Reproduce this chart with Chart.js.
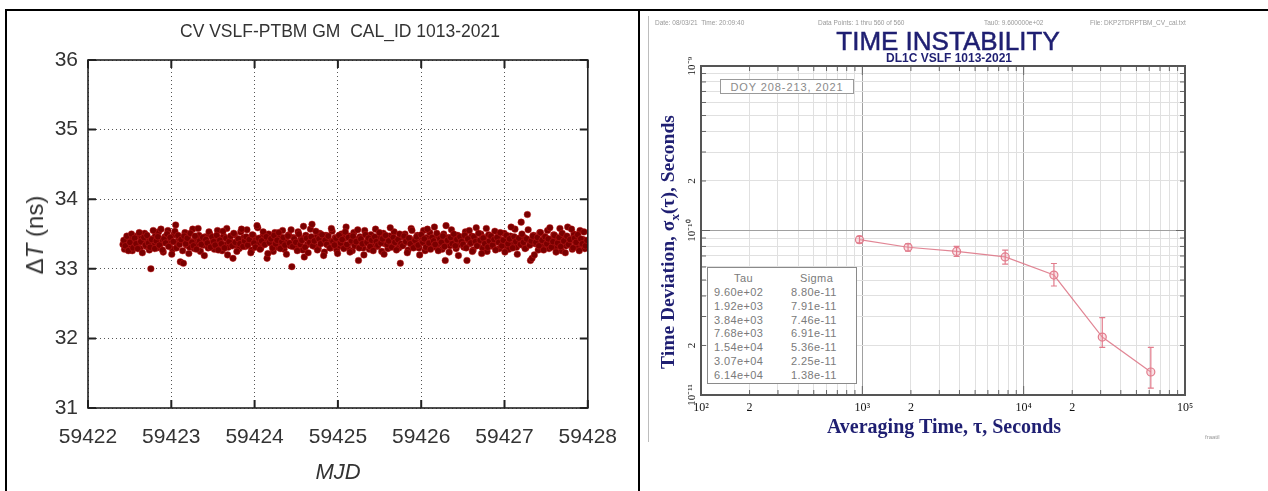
<!DOCTYPE html>
<html>
<head>
<meta charset="utf-8">
<script src="https://cdn.jsdelivr.net/npm/chart.js@4.4.1/dist/chart.umd.min.js"></script>
<style>
  body { margin: 0; background: #fff; width: 1268px; height: 491px; overflow: hidden; position: relative;
         font-family: "Liberation Sans", Arial, sans-serif; }
  .abs { position: absolute; }
  .c { position: absolute; transform: translate(-50%, -50%); white-space: nowrap; }
  .rot { position: absolute; transform: translate(-50%, -50%) rotate(-90deg); white-space: nowrap; }
  .line { position: absolute; background: #000; }
  .hdr { position: absolute; top: 19px; font-size: 6.5px; color: #999; white-space: nowrap; }
  .navy { color: #1f1f72; }
  .serif { font-family: "Liberation Serif", "Times New Roman", serif; font-weight: bold; }
  #stats { position: absolute; left: 707px; top: 267px; width: 150px; height: 117px; border: 1px solid #8a8a8a;
           background: #fff; font-size: 11px; letter-spacing: 0.4px; color: #7a7a7a; box-sizing: border-box; }
  #stats span { position: absolute; white-space: nowrap; }
  #doy { position: absolute; left: 720px; top: 79px; width: 134px; height: 15px; border: 1px solid #9a9a9a;
         background: #fff; font-size: 11px; letter-spacing: 0.9px; color: #8a8a8a; text-align: center;
         line-height: 14px; box-sizing: border-box; }
</style>
</head>
<body>

<canvas id="cvChart" class="abs" style="left:0;top:0" width="634" height="491"></canvas>
<canvas id="tdevChart" class="abs" style="left:640px;top:12px" width="628" height="470"></canvas>

<!-- cadre du tableau -->
<div class="line" style="left:5px;top:9px;width:1263px;height:2px"></div>
<div class="line" style="left:5px;top:9px;width:2px;height:482px"></div>
<div class="line" style="left:638px;top:9px;width:2px;height:482px"></div>
<div class="abs" style="left:648px;top:16px;width:1px;height:426px;background:#bdbdbd"></div>

<!-- textes du graphe de gauche -->
<div class="c" style="left:340px;top:31px;font-size:17.5px;color:#333">CV VSLF-PTBM GM&nbsp; CAL_ID 1013-2021</div>
<div class="rot" style="left:35px;top:235px;font-size:24px;color:#333">&Delta;<i>T</i> (ns)</div>
<div class="c" style="left:338px;top:472px;font-size:22px;color:#333;font-style:italic">MJD</div>

<!-- textes du graphe de droite -->
<div class="hdr" style="left:655px">Date: 08/03/21&nbsp; Time: 20:09:40</div>
<div class="hdr" style="left:818px">Data Points: 1 thru 560 of 560</div>
<div class="hdr" style="left:984px">Tau0: 9.600000e+02</div>
<div class="hdr" style="left:1090px">File: DKP2TDRPTBM_CV_cal.txt</div>
<div class="c navy" style="left:948px;top:41px;font-size:26px;-webkit-text-stroke:0.5px #1f1f72">TIME INSTABILITY</div>
<div class="c navy" style="left:949px;top:58px;font-size:12px;font-weight:bold">DL1C VSLF 1013-2021</div>
<div class="rot navy serif" style="left:670px;top:242px;font-size:19.5px">Time Deviation, &sigma;<sub style="font-size:13px">x</sub>(&tau;), Seconds</div>
<div class="c navy serif" style="left:944px;top:426px;font-size:20px">Averaging Time, &tau;, Seconds</div>
<div class="abs" style="left:1205px;top:434px;font-size:6px;color:#999">fraatil</div>
<div id="doy">DOY 208-213, 2021</div>
<div id="stats"></div>

<script>
// ---- graphe de gauche : CV VSLF-PTBM ----
const mjdTicks = [59422, 59423, 59424, 59425, 59426, 59427, 59428];
const dtTicks = [31, 32, 33, 34, 35, 36];
const mjdStart = 59422.42;
const mjdStep = 0.0186;
// mesures aux instants mjdStart + i*mjdStep
const dtValuesA = [
  33.35, 33.28, 33.42, 33.31, 33.45, 33.38, 33.26, 33.40, 33.33, 33.47, 33.36, 33.29, 33.44, 33.39, 33.51, 33.32, 33.41, 33.27, 33.00, 33.43,
  33.37, 33.48, 33.30, 33.53, 33.35, 33.42, 33.24, 33.46, 33.38, 33.55, 33.33, 33.40, 33.28, 33.49, 33.63, 33.36, 33.44, 33.10, 33.41, 33.08,
  33.52, 33.34, 33.45, 33.31, 33.39, 33.57, 33.29, 33.43, 33.36, 33.48, 33.25, 33.41, 33.34, 33.46, 33.38, 33.30, 33.50, 33.37, 33.43, 33.28,
  33.39, 33.55, 33.33, 33.44, 33.26, 33.47, 33.35, 33.58, 33.31, 33.42, 33.37, 33.15, 33.49, 33.34, 33.41, 33.29, 33.53, 33.38, 33.45, 33.32,
  33.56, 33.36, 33.43, 33.27, 33.48, 33.40, 33.33, 33.59, 33.38, 33.30, 33.46, 33.35, 33.42, 33.15, 33.50, 33.37, 33.44, 33.25, 33.52, 33.39,
  33.31, 33.47, 33.36, 33.55, 33.28, 33.43, 33.38, 33.49, 33.33, 33.03, 33.45, 33.40, 33.30, 33.53, 33.36, 33.44, 33.27, 33.17, 33.48, 33.35,
  33.42, 33.57, 33.64, 33.39, 33.32, 33.46, 33.29, 33.51, 33.37, 33.43, 33.24, 33.48, 33.35, 33.41, 33.30, 33.54, 33.38, 33.45, 33.27, 33.40,
  33.33, 33.50, 33.36, 33.44, 33.60, 33.31, 33.47, 33.38, 33.26, 33.52, 33.35, 33.42, 33.12, 33.46, 33.39, 33.30, 33.55, 33.37, 33.43, 33.28,
  33.49, 33.34, 33.41, 33.57, 33.32, 33.45, 33.38, 33.25, 33.51, 33.36, 33.44, 33.29, 33.47, 33.40, 33.33, 33.53, 33.37, 33.42, 33.30, 33.08,
  33.46, 33.35, 33.50, 33.39, 33.27, 33.44, 33.58, 33.33, 33.41, 33.36, 33.48, 33.30, 33.43, 33.38, 33.55, 33.26, 33.45, 33.37, 33.52, 33.34,
  33.40, 33.60, 33.31, 33.47, 33.36, 33.43, 33.28, 33.50, 33.12, 33.39, 33.45, 33.33, 33.56, 33.37, 33.42, 33.29, 33.48, 33.35, 33.44, 33.38,
  33.31, 33.53, 33.12, 33.41, 33.36, 33.47, 33.27, 33.44, 33.59, 33.34, 33.40, 33.50, 33.30, 33.45, 33.38, 33.25, 33.49, 33.36, 33.43, 33.32,
  33.54, 33.39, 33.46, 33.29, 33.42, 33.37, 33.51, 33.33, 33.44, 33.28, 33.47, 33.40, 33.35, 33.57, 33.31, 33.43, 33.38, 33.67, 33.34, 33.45,
  33.30, 33.78, 33.41, 33.12, 33.15, 33.48, 33.36, 33.44, 33.27, 33.52, 33.39, 33.33, 33.46, 33.38, 33.55, 33.29, 33.42, 33.35, 33.49, 33.31,
  33.44, 33.37, 33.58, 33.26, 33.45, 33.40, 33.33, 33.60, 33.36, 33.43, 33.28, 33.50, 33.38, 33.46, 33.31, 33.55, 33.35, 33.42, 33.29, 33.39
];
// mesures intercalees, aux instants mjdStart + (i + 0.5)*mjdStep
const dtValuesB = [
  33.41, 33.33, 33.47, 33.26, 33.38, 33.50, 33.30, 33.44, 33.36, 33.29, 33.52, 33.39, 33.23, 33.45, 33.34, 33.48, 33.37, 33.31, 33.42, 33.55,
  33.29, 33.40, 33.46, 33.34, 33.57, 33.27, 33.43, 33.37, 33.50, 33.32, 33.45, 33.21, 33.39, 33.54, 33.30, 33.48, 33.35, 33.42, 33.26, 33.47,
  33.36, 33.44, 33.22, 33.51, 33.38, 33.33, 33.47, 33.28, 33.58, 33.40, 33.35, 33.45, 33.19, 33.42, 33.37, 33.53, 33.31, 33.46, 33.39, 33.34,
  33.48, 33.27, 33.41, 33.36, 33.54, 33.30, 33.44, 33.20, 33.39, 33.47, 33.33, 33.51, 33.38, 33.25, 33.43, 33.36, 33.57, 33.32, 33.40, 33.46,
  33.34, 33.42, 33.23, 33.49, 33.37, 33.31, 33.62, 33.44, 33.28, 33.40, 33.53, 33.35, 33.46, 33.22, 33.38, 33.43, 33.30, 33.48, 33.36, 33.41,
  33.52, 33.29, 33.39, 33.45, 33.34, 33.21, 33.47, 33.37, 33.56, 33.32, 33.43, 33.38, 33.26, 33.50, 33.35, 33.41, 33.61, 33.31, 33.44, 33.23,
  33.38, 33.46, 33.33, 33.40, 33.54, 33.27, 33.43, 33.36, 33.49, 33.19, 33.41, 33.35, 33.47, 33.30, 33.58, 33.39, 33.34, 33.44, 33.22, 33.48,
  33.37, 33.42, 33.29, 33.53, 33.35, 33.45, 33.24, 33.40, 33.47, 33.33, 33.39, 33.56, 33.30, 33.43, 33.36, 33.20, 33.49, 33.38, 33.44, 33.32,
  33.41, 33.26, 33.46, 33.39, 33.34, 33.52, 33.37, 33.43, 33.21, 33.48, 33.35, 33.40, 33.59, 33.31, 33.45, 33.38, 33.27, 33.42, 33.50, 33.36,
  33.33, 33.47, 33.39, 33.23, 33.44, 33.36, 33.55, 33.30, 33.41, 33.46, 33.34, 33.20, 33.49, 33.38, 33.43, 33.31, 33.57, 33.37, 33.28, 33.45,
  33.40, 33.35, 33.51, 33.26, 33.43, 33.38, 33.47, 33.32, 33.62, 33.41, 33.24, 33.45, 33.36, 33.50, 33.33, 33.42, 33.19, 33.46, 33.39, 33.35,
  33.48, 33.30, 33.43, 33.55, 33.37, 33.25, 33.46, 33.39, 33.33, 33.51, 33.41, 33.22, 33.44, 33.36, 33.58, 33.31, 33.40, 33.47, 33.34, 33.42,
  33.27, 33.45, 33.38, 33.52, 33.33, 33.41, 33.24, 33.48, 33.36, 33.43, 33.60, 33.30, 33.46, 33.39, 33.21, 33.44, 33.35, 33.50, 33.38, 33.29,
  33.43, 33.56, 33.34, 33.40, 33.47, 33.20, 33.38, 33.45, 33.33, 33.52, 33.41, 33.27, 33.46, 33.36, 33.43, 33.59, 33.31, 33.39, 33.48, 33.24,
  33.37, 33.45, 33.32, 33.51, 33.40, 33.23, 33.47, 33.35, 33.42, 33.57, 33.30, 33.44, 33.38, 33.49, 33.26, 33.43, 33.36, 33.53, 33.33, 33.41
];

// ---- graphe de droite : instabilite temporelle ----
const tau = [960, 1920, 3840, 7680, 15400, 30700, 61400];
const sigma = [8.80e-11, 7.91e-11, 7.46e-11, 6.91e-11, 5.36e-11, 2.25e-11, 1.38e-11];
const sigmaHi = [9.2e-11, 8.3e-11, 8.0e-11, 7.6e-11, 6.3e-11, 2.95e-11, 1.95e-11];
const sigmaLo = [8.4e-11, 7.5e-11, 6.95e-11, 6.25e-11, 4.6e-11, 1.95e-11, 1.1e-11];
const tauTicks = [100, 200, 300, 400, 500, 600, 700, 800, 900,
                  1000, 2000, 3000, 4000, 5000, 6000, 7000, 8000, 9000,
                  10000, 20000, 30000, 40000, 50000, 60000, 70000, 80000, 90000, 100000];
const tauTickLabels = { 100: '10²', 200: '2', 1000: '10³', 2000: '2', 10000: '10⁴', 20000: '2', 100000: '10⁵' };
const sigmaTicks = [1e-11, 2e-11, 3e-11, 4e-11, 5e-11, 6e-11, 7e-11, 8e-11, 9e-11,
                    1e-10, 2e-10, 3e-10, 4e-10, 5e-10, 6e-10, 7e-10, 8e-10, 9e-10, 1e-9];
const sigmaTickValues = [1e-9, 2e-10, 1e-10, 2e-11, 1e-11];
const sigmaTickLabels = ['10⁻⁹', '2', '10⁻¹⁰', '2', '10⁻¹¹'];

// cadre + petites graduations interieures (style gnuplot)
const cadreGauche = {
    id: 'cadreGauche',
    afterDraw(chart) {
        const { ctx, chartArea: a, scales } = chart;
        ctx.save();
        ctx.strokeStyle = '#222';
        ctx.lineWidth = 2;
        mjdTicks.forEach(v => {
            const x = scales.x.getPixelForValue(v);
            ctx.beginPath();
            ctx.moveTo(x, a.bottom); ctx.lineTo(x, a.bottom - 8);
            ctx.moveTo(x, a.top); ctx.lineTo(x, a.top + 8);
            ctx.stroke();
        });
        dtTicks.forEach(v => {
            const y = scales.y.getPixelForValue(v);
            ctx.beginPath();
            ctx.moveTo(a.left, y); ctx.lineTo(a.left + 8, y);
            ctx.moveTo(a.right, y); ctx.lineTo(a.right - 8, y);
            ctx.stroke();
        });
        ctx.lineWidth = 1.6;
        ctx.strokeRect(a.left, a.top, a.right - a.left, a.bottom - a.top);
        ctx.restore();
    }
};

const pointsA = dtValuesA.map((v, i) => ({ x: mjdStart + i * mjdStep, y: v }));
const pointsB = dtValuesB.map((v, i) => ({ x: mjdStart + (i + 0.5) * mjdStep, y: v }));

new Chart(document.getElementById('cvChart'), {
    type: 'scatter',
    data: {
        datasets: [{
            data: pointsA.concat(pointsB),
            pointRadius: 3.3,
            backgroundColor: '#7a0000',
            borderColor: 'rgba(200,30,30,0.55)',
            borderWidth: 0.8
        }]
    },
    options: {
        responsive: false,
        animation: false,
        layout: { padding: { top: 60, right: 46, left: 0, bottom: 0 } },
        plugins: { legend: { display: false }, tooltip: { enabled: false } },
        scales: {
            x: {
                type: 'linear', min: 59422, max: 59428,
                afterBuildTicks: s => { s.ticks = mjdTicks.map(v => ({ value: v })); },
                afterFit: s => { s.height = 83; },
                ticks: { color: '#333', font: { size: 21, family: 'Liberation Sans' }, padding: 17,
                         maxRotation: 0, autoSkip: false, callback: v => String(v) },
                grid: { color: '#555', lineWidth: 1, drawTicks: false },
                border: { display: false, dash: [1, 3] }
            },
            y: {
                min: 31, max: 36,
                afterBuildTicks: s => { s.ticks = dtTicks.map(v => ({ value: v })); },
                afterFit: s => { s.width = 88; },
                ticks: { color: '#333', font: { size: 21, family: 'Liberation Sans' }, padding: 10,
                         callback: v => String(v) },
                grid: { color: '#555', lineWidth: 1, drawTicks: false },
                border: { display: false, dash: [1, 3] }
            }
        }
    },
    plugins: [cadreGauche]
});

const estDecade = v => Math.abs(Math.log10(v) - Math.round(Math.log10(v))) < 1e-6;

const cadreDroite = {
    id: 'cadreDroite',
    afterDatasetsDraw(chart) {
        const { ctx, scales } = chart;
        ctx.save();
        ctx.strokeStyle = '#e27c8c';
        ctx.lineWidth = 1.2;
        tau.forEach((t, i) => {
            const x = scales.x.getPixelForValue(t);
            const yh = scales.y.getPixelForValue(sigmaHi[i]);
            const yl = scales.y.getPixelForValue(sigmaLo[i]);
            ctx.beginPath();
            ctx.moveTo(x, yh); ctx.lineTo(x, yl);
            ctx.moveTo(x - 3, yh); ctx.lineTo(x + 3, yh);
            ctx.moveTo(x - 3, yl); ctx.lineTo(x + 3, yl);
            ctx.stroke();
        });
        ctx.restore();
    },
    afterDraw(chart) {
        const { ctx, chartArea: a, scales } = chart;
        ctx.save();
        ctx.strokeStyle = '#666';
        ctx.lineWidth = 1;
        tauTicks.forEach(v => {
            const x = scales.x.getPixelForValue(v);
            const len = estDecade(v) ? 9 : 5;
            ctx.beginPath();
            ctx.moveTo(x, a.bottom); ctx.lineTo(x, a.bottom - len);
            ctx.moveTo(x, a.top); ctx.lineTo(x, a.top + len);
            ctx.stroke();
        });
        sigmaTicks.forEach(v => {
            const y = scales.y.getPixelForValue(v);
            const len = estDecade(v) ? 9 : 5;
            ctx.beginPath();
            ctx.moveTo(a.left, y); ctx.lineTo(a.left + len, y);
            ctx.moveTo(a.right, y); ctx.lineTo(a.right - len, y);
            ctx.stroke();
        });
        ctx.strokeStyle = '#555';
        ctx.lineWidth = 2;
        ctx.strokeRect(a.left, a.top, a.right - a.left, a.bottom - a.top);
        // graduations de l'axe y, ecrites verticalement
        ctx.fillStyle = '#111';
        ctx.font = '11px "Liberation Serif"';
        ctx.textAlign = 'center';
        ctx.textBaseline = 'middle';
        sigmaTickValues.forEach((v, i) => {
            const y = scales.y.getPixelForValue(v);
            ctx.save();
            ctx.translate(a.left - 9, y);
            ctx.rotate(-Math.PI / 2);
            ctx.fillText(sigmaTickLabels[i], 0, 0);
            ctx.restore();
        });
        ctx.restore();
    }
};

const couleurGrille = c => (c.tick && estDecade(c.tick.value)) ? '#a0a0a0' : '#e0e0e0';

new Chart(document.getElementById('tdevChart'), {
    type: 'line',
    data: {
        datasets: [{
            data: tau.map((t, i) => ({ x: t, y: sigma[i] })),
            borderColor: 'rgba(222,120,136,0.9)',
            borderWidth: 1.2,
            pointRadius: 4,
            pointBorderColor: '#e27c8c',
            pointBackgroundColor: 'rgba(240,170,180,0.35)',
            pointBorderWidth: 1.2,
            tension: 0,
            fill: false
        }]
    },
    options: {
        responsive: false,
        animation: false,
        layout: { padding: { top: 54, right: 83, left: 0, bottom: 0 } },
        plugins: { legend: { display: false }, tooltip: { enabled: false } },
        scales: {
            x: {
                type: 'logarithmic', min: 100, max: 100000,
                afterBuildTicks: s => { s.ticks = tauTicks.map(v => ({ value: v })); },
                afterFit: s => { s.height = 87; },
                ticks: { color: '#111', font: { size: 12, family: 'Liberation Serif' }, padding: 6,
                         maxRotation: 0, autoSkip: false, callback: v => tauTickLabels[v] || '' },
                grid: { color: couleurGrille, lineWidth: 1, drawTicks: false },
                border: { display: false }
            },
            y: {
                type: 'logarithmic', min: 1e-11, max: 1e-9,
                afterBuildTicks: s => { s.ticks = sigmaTicks.map(v => ({ value: v })); },
                afterFit: s => { s.width = 61; },
                ticks: { display: false },
                grid: { color: couleurGrille, lineWidth: 1, drawTicks: false },
                border: { display: false }
            }
        }
    },
    plugins: [cadreDroite]
});

// tableau Tau / Sigma
const sci = v => {
    const [m, e] = v.toExponential(2).split('e');
    return m + 'e' + e[0] + e.slice(1).padStart(2, '0');
};
const stats = document.getElementById('stats');
const addSpan = (txt, left, top) => {
    const s = document.createElement('span');
    s.textContent = txt;
    s.style.left = left + 'px';
    s.style.top = top + 'px';
    stats.appendChild(s);
};
addSpan('Tau', 26, 4);
addSpan('Sigma', 92, 4);
tau.forEach((t, i) => {
    addSpan(sci(t), 6, 18 + i * 13.8);
    addSpan(sci(sigma[i]), 83, 18 + i * 13.8);
});
</script>
</body>
</html>
